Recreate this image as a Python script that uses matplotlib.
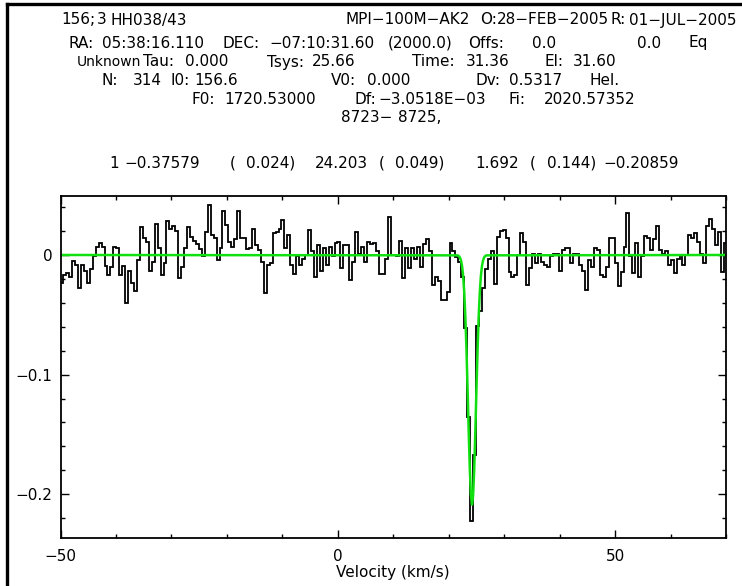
import numpy as np
import matplotlib
matplotlib.use("Agg")
import matplotlib.pyplot as plt
from matplotlib.ticker import MultipleLocator, FuncFormatter
from matplotlib.lines import Line2D

# ---- header / fit parameters (from the CLASS header) ----
I0 = 156.6          # reference channel
V0 = 0.0            # velocity at reference channel
DV = 0.5317         # channel width (km/s)
first_channel = 63  # first channel visible in the window

intensity = [
    -0.023, -0.017, -0.015, -0.018, -0.005, -0.008, -0.028, -0.008, -0.013, -0.023,
    -0.012, -0.001, 0.007, 0.010, 0.007, -0.009, -0.017, -0.010, 0.007, 0.006,
    -0.017, -0.009, -0.040, -0.013, -0.023, -0.030, -0.004, 0.023, 0.014, 0.011,
    -0.013, -0.006, 0.026, 0.006, -0.017, -0.007, 0.028, 0.022, 0.024, 0.020,
    -0.019, -0.010, 0.006, 0.023, 0.015, 0.012, 0.009, 0.005, -0.001, 0.019,
    0.042, 0.017, 0.014, -0.004, 0.006, 0.037, 0.025, 0.011, 0.007, 0.013,
    0.037, 0.014, 0.014, 0.005, 0.006, 0.022, 0.008, 0.004, -0.006, -0.032,
    -0.008, -0.007, 0.018, 0.019, 0.022, 0.029, 0.006, 0.017, -0.008, -0.016,
    -0.001, -0.008, -0.003, 0.000, 0.021, 0.003, -0.018, 0.008, -0.013, 0.006,
    -0.008, 0.007, -0.001, 0.010, 0.011, -0.011, 0.008, 0.008, -0.021, -0.006,
    0.019, 0.001, 0.007, -0.006, 0.011, 0.009, 0.010, 0.003, -0.016, -0.016,
    -0.003, 0.032, 0.000, 0.000, -0.001, 0.012, -0.019, 0.006, -0.011, 0.006,
    -0.003, 0.007, -0.010, 0.009, 0.013, 0.003, -0.025, -0.018, -0.022, -0.0375,
    -0.0375, -0.031, 0.010, 0.003, -0.002, -0.006, -0.018, -0.061, -0.135, -0.222,
    -0.167, -0.059, -0.047, -0.028, -0.012, -0.003, 0.003, -0.024, 0.015, 0.020,
    0.021, 0.014, -0.014, -0.018, -0.017, 0.000, 0.018, 0.011, -0.025, -0.011,
    0.001, -0.007, 0.001, -0.006, -0.008, -0.010, -0.001, 0.001, 0.001, -0.013,
    0.004, 0.006, 0.006, -0.007, 0.001, 0.001, -0.008, -0.013, -0.029, -0.004,
    -0.010, 0.006, 0.004, -0.017, -0.018, -0.010, 0.014, 0.014, -0.007, -0.026,
    -0.014, 0.007, 0.035, -0.001, -0.015, 0.010, -0.018, -0.001, 0.016, 0.014,
    0.004, 0.013, 0.024, 0.004, 0.001, 0.003, -0.008, -0.004, -0.015, -0.003,
    0.000, -0.008, 0.000, 0.017, 0.014, 0.018, 0.011, 0.001, -0.007, 0.024,
    0.030, 0.022, 0.008, 0.019, -0.014, 0.010,
]

# ---- Gaussian fit curve (green) ----
fit_velocity = [-50.0, 21.6, 21.8, 22.0, 22.2, 22.4, 22.6, 22.8, 23.0, 23.2, 23.4,
                23.6, 23.8, 24.0, 24.2, 24.4, 24.6, 24.8, 25.0, 25.2, 25.4, 25.6,
                25.8, 26.0, 26.2, 26.4, 26.6, 26.8, 70.0]
fit_intensity = [0.0, -0.0003, -0.0008, -0.0019, -0.0043, -0.0090, -0.0173, -0.0310,
                 -0.0514, -0.0787, -0.1117, -0.1467, -0.1782, -0.2004, -0.2086,
                 -0.2009, -0.1791, -0.1477, -0.1128, -0.0797, -0.0521, -0.0315,
                 -0.0176, -0.0091, -0.0044, -0.0019, -0.0008, -0.0003, 0.0]

# ---- header text lines: (x pixel, text, fontsize) ----
header_rows = [
    (20, [(61.5, "156;", 11), (97, "3", 11), (111, "HH038/43", 11),
          (345.5, "MPI\u2212100M\u2212AK2", 11), (480, "O:", 11), (497, "28\u2212FEB\u22122005", 11),
          (610, "R:", 11), (629.5, "01\u2212JUL\u22122005", 11)]),
    (43, [(68.6, "RA:", 11), (101.7, "05:38:16.110", 11), (222.4, "DEC:", 11),
          (269.8, "\u221207:10:31.60", 11), (388, "(2000.0)", 11), (468.5, "Offs:", 11),
          (532.4, "0.0", 11), (636.5, "0.0", 11), (688.6, "Eq", 11)]),
    (62, [(77, "Unknown", 10), (143, "Tau:", 11), (184.6, "0.000", 11), (267.4, "Tsys:", 11),
          (312.3, "25.66", 11), (411.7, "Time:", 11), (466, "31.36", 11), (544, "El:", 11),
          (572.6, "31.60", 11)]),
    (81, [(101.7, "N:", 11), (132.5, "314", 11), (170.4, "I0:", 11), (194, "156.6", 11),
          (331.3, "V0:", 11), (366.8, "0.000", 11), (475.6, "Dv:", 11), (508.7, "0.5317", 11),
          (589.2, "Hel.", 11)]),
    (100, [(191.7, "F0:", 11), (224.8, "1720.53000", 11), (355, "Df:", 11),
           (378.6, "\u22123.0518E\u221203", 11), (508.7, "Fi:", 11), (544.2, "2020.57352", 11)]),
    (118, [(340.7, "8723\u2212", 11), (398, "8725,", 11)]),
    (163, [(109.8, "1", 11), (124, "\u22120.37579", 11), (229.5, "(", 11), (246, "0.024)", 11),
           (314.7, "24.203", 11), (378.6, "(", 11), (395, "0.049)", 11), (475.6, "1.692", 11),
           (530, "(", 11), (546.6, "0.144)", 11), (603.4, "\u22120.20859", 11)]),
]

W, H = 742, 586
plt.rcParams['font.family'] = ['DejaVu Sans']
fig = plt.figure(figsize=(W / 100, H / 100), dpi=100)
fig.patch.set_facecolor('white')

ax_l, ax_r, ax_t, ax_b = 60.5, 726.0, 196.0, 537.7
ax = fig.add_axes([ax_l / W, 1 - ax_b / H, (ax_r - ax_l) / W, (ax_b - ax_t) / H])

channels = np.arange(first_channel, first_channel + len(intensity))
edges = V0 + (np.append(channels, channels[-1] + 1) - 0.5 - I0) * DV
ax.stairs(intensity, edges, baseline=None, color='black', lw=1.3)
ax.plot(fit_velocity, fit_intensity, color='#10e010', lw=1.8)

ax.set_xlim(-50, 70)
ax.set_ylim(-0.2363, 0.0493)

ax.xaxis.set_major_locator(MultipleLocator(50))
ax.xaxis.set_minor_locator(MultipleLocator(10))
ax.yaxis.set_major_locator(MultipleLocator(0.1))
ax.yaxis.set_minor_locator(MultipleLocator(0.02))


def fmt(v, pos):
    if abs(v) < 1e-9:
        return "0"
    s = f"{v:.1f}" if abs(v) < 1 else f"{v:.0f}"
    return s.replace("-", "\u2212")


ax.xaxis.set_major_formatter(FuncFormatter(fmt))
ax.yaxis.set_major_formatter(FuncFormatter(fmt))
ax.tick_params(which='both', direction='in', top=True, right=True, width=1.0, colors='black')
ax.tick_params(which='major', length=5.8, labelsize=11)
ax.tick_params(which='minor', length=3.0)
ax.tick_params(axis='x', which='major', pad=8)
ax.tick_params(axis='y', which='major', pad=6)
for sp in ax.spines.values():
    sp.set_linewidth(1.3)

fig.text(393 / W, 1 - 573 / H, "Velocity (km/s)", ha='center', va='center', fontsize=11)

for y, pieces in header_rows:
    for x, s, fs in pieces:
        fig.text(x / W, 1 - y / H, s, ha='left', va='center', fontsize=fs)

# page frame
fig.add_artist(Line2D([7 / W, 7 / W], [0, 1 - 4 / H], transform=fig.transFigure, color='black', lw=2.4))
fig.add_artist(Line2D([7 / W, 1], [1 - 4 / H, 1 - 4 / H], transform=fig.transFigure, color='black', lw=2.4))

fig.savefig("out.png", dpi=100)
